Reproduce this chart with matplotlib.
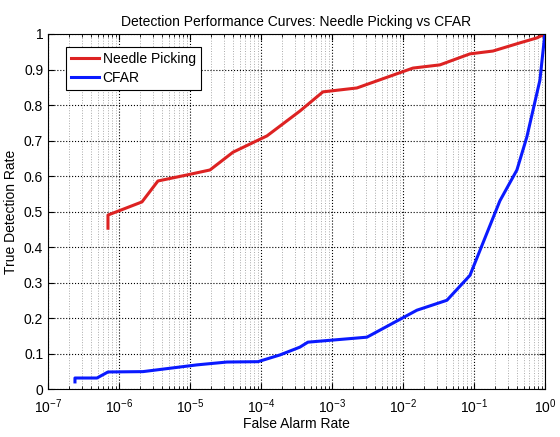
import numpy as np
import matplotlib.pyplot as plt
from matplotlib.ticker import LogLocator, NullFormatter

plt.rcParams['font.family'] = ['Liberation Sans', 'DejaVu Sans']

# Needle Picking curve (log10 false alarm rate, detection rate)
np_logx = [-6.155, -6.155, -5.676, -5.451, -5.042, -4.718, -4.394, -3.915, -3.451,
           -3.127, -2.648, -1.859, -1.479, -1.056, -0.732, -0.352, -0.113, 0.0]
np_y = [0.453, 0.49, 0.527, 0.586, 0.603, 0.617, 0.667, 0.713, 0.783,
        0.837, 0.848, 0.904, 0.913, 0.944, 0.952, 0.975, 0.989, 1.0]

# CFAR curve
cf_logx = [-6.62, -6.62, -6.31, -6.155, -5.662, -4.901, -4.479, -4.042, -3.732, -3.451,
           -3.338, -2.507, -1.803, -1.380, -1.056, -0.634, -0.394, -0.254, -0.070, 0.0]
cf_y = [0.02, 0.031, 0.031, 0.048, 0.049, 0.068, 0.076, 0.077, 0.096, 0.118,
        0.132, 0.146, 0.222, 0.25, 0.32, 0.53, 0.617, 0.71, 0.87, 1.0]

fig = plt.figure(figsize=(5.6, 4.37), dpi=100)
ax = fig.add_axes([0.0857, 0.1098, 0.8873, 0.8124])

ax.plot(10.0 ** np.array(np_logx), np_y, color='#dd2222', lw=2.2, label='Needle Picking')
ax.plot(10.0 ** np.array(cf_logx), cf_y, color='#0a1aff', lw=2.2, label='CFAR')

ax.set_xscale('log')
ax.set_xlim(1e-7, 1)
ax.set_ylim(0, 1)
ax.set_xticks([10.0 ** k for k in range(-7, 1)])
ax.xaxis.set_minor_locator(LogLocator(base=10, subs=np.arange(2, 10), numticks=20))
ax.xaxis.set_minor_formatter(NullFormatter())
ax.set_yticks(np.arange(0, 1.01, 0.1))
ax.set_yticklabels(['0', '0.1', '0.2', '0.3', '0.4', '0.5', '0.6', '0.7', '0.8', '0.9', '1'])

ax.grid(True, which='major', linestyle=':', color='black', lw=0.8)
ax.grid(True, which='minor', axis='x', linestyle=':', color='#aaaaaa', lw=0.7)
ax.tick_params(which='both', direction='in', top=True, right=True, labelsize=10)
ax.tick_params(which='major', length=4)
ax.tick_params(axis='x', which='major', pad=6)
ax.tick_params(which='minor', length=2)
for s in ax.spines.values():
    s.set_color('black')
    s.set_linewidth(0.8)

ax.set_title('Detection Performance Curves: Needle Picking vs CFAR', fontsize=10, pad=6)
ax.set_xlabel('False Alarm Rate', fontsize=10, labelpad=1)
ax.set_ylabel('True Detection Rate', fontsize=10, labelpad=4)

leg = ax.legend(loc='upper left', fontsize=10, fancybox=False, framealpha=1,
                edgecolor='black', borderpad=0.35, handlelength=2.0, handletextpad=0.3,
                labelspacing=0.35, borderaxespad=0, bbox_to_anchor=(0.036, 0.963))
leg.get_frame().set_linewidth(0.8)

fig.savefig('out.png', dpi=100)
